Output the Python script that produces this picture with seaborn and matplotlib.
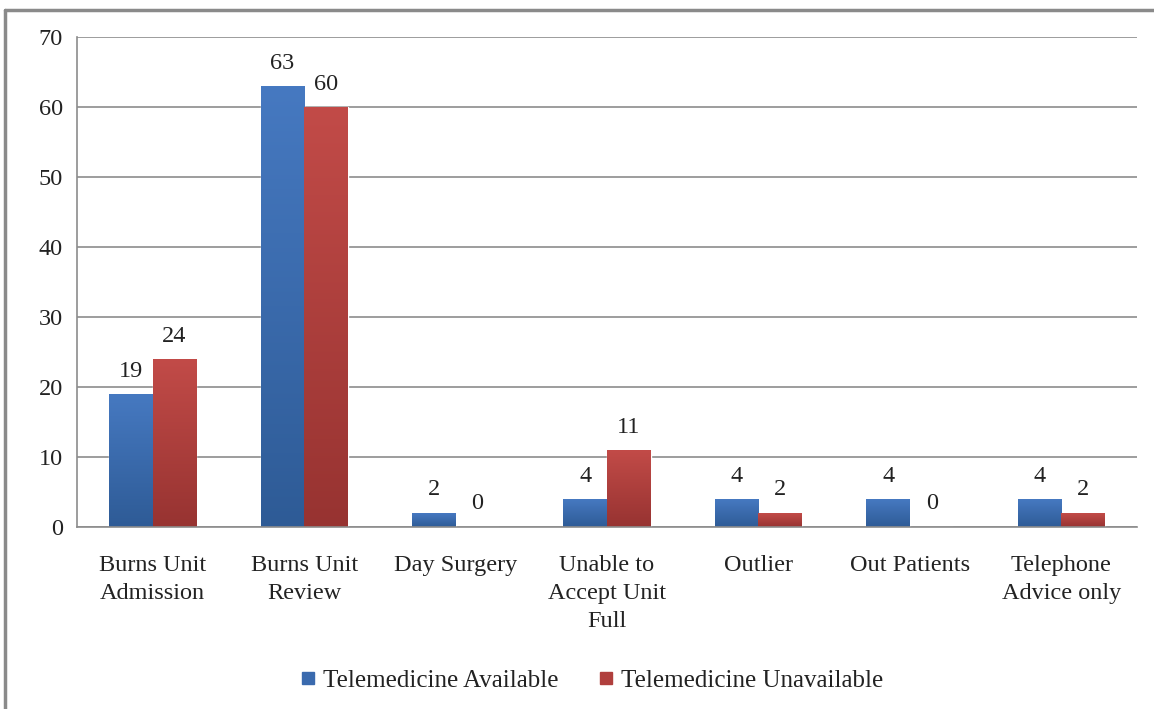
import numpy as np
import pandas as pd
import seaborn as sns
import matplotlib
matplotlib.use('Agg')
import matplotlib.pyplot as plt
from matplotlib.lines import Line2D
from matplotlib.colors import LinearSegmentedColormap

categories = ["Burns Unit\nAdmission", "Burns Unit\nReview", "Day Surgery",
              "Unable to\nAccept Unit\nFull", "Outlier", "Out Patients",
              "Telephone\nAdvice only"]
available = [19, 63, 2, 4, 4, 4, 4]
unavailable = [24, 60, 0, 11, 2, 0, 2]
series = ["Telemedicine Available", "Telemedicine Unavailable"]

df = pd.DataFrame({
    "category": categories * 2,
    "value": available + unavailable,
    "series": [series[0]] * len(categories) + [series[1]] * len(categories),
})

sns.set_style("white")
plt.rcParams['font.family'] = ['Liberation Serif', 'DejaVu Serif']

blue_top, blue_bot = "#4679C1", "#2E5B96"
red_top, red_bot = "#C24B48", "#973331"
grid_c = "#8C8C8C"
txt_c = "#222222"

fig = plt.figure(figsize=(11.54, 7.09), dpi=100)
ax = fig.add_axes([0.0667, 0.2567, 0.9186, 0.6911])

sns.barplot(data=df, x="category", y="value", hue="series",
            palette=[blue_top, red_top], saturation=1, width=0.575,
            ax=ax, legend=False)

# vertical gradient on each bar
grad = np.linspace(1, 0, 256).reshape(-1, 1)
for i, container in enumerate(ax.containers):
    top, bot = (blue_top, blue_bot) if i == 0 else (red_top, red_bot)
    cmap = LinearSegmentedColormap.from_list("g", [bot, top])
    for p in container.patches:
        if p.get_height() <= 0:
            continue
        x0, y0 = p.get_x(), p.get_y()
        im = ax.imshow(grad, cmap=cmap, aspect="auto", zorder=p.get_zorder() + 0.1,
                       extent=[x0, x0 + p.get_width(), y0, y0 + p.get_height()])
        im.set_clip_path(p)
    ax.bar_label(container, labels=[f"{v:.0f}" for v in container.datavalues],
                 padding=9, fontsize=17.5, color=txt_c)

ax.set_xlim(-0.5, len(categories) - 0.5)
ax.set_ylim(0, 70)
ax.set_yticks(range(0, 71, 10))
ax.set_xlabel("")
ax.set_ylabel("")
ax.yaxis.grid(True, color=grid_c, linewidth=1.2)
ax.set_axisbelow(True)
for s in ["top", "right"]:
    ax.spines[s].set_visible(False)
for s in ["left", "bottom"]:
    ax.spines[s].set_color(grid_c)
    ax.spines[s].set_linewidth(1.2)

ax.set_xticks(np.arange(-0.5, len(categories), 1), minor=True)
ax.tick_params(axis="x", which="major", length=0, pad=20, labelsize=17.5)
ax.tick_params(axis="x", which="minor", length=7, width=1.2, color=grid_c)
ax.tick_params(axis="y", length=7, width=1.2, color=grid_c, pad=3, labelsize=17.5)
for lbl in ax.get_xticklabels():
    lbl.set_linespacing(1.45)
    lbl.set_color(txt_c)
for lbl in ax.get_yticklabels():
    lbl.set_color(txt_c)

handles = [Line2D([], [], marker="s", linestyle="", markersize=8,
                  markerfacecolor=c, markeredgecolor=c) for c in ["#3A6AAE", "#B03F3D"]]
fig.legend(handles, series, loc="center", bbox_to_anchor=(0.51, 0.04), ncol=2,
           frameon=False, fontsize=18, handletextpad=0.0, columnspacing=1.3,
           handlelength=1.2, labelcolor=txt_c)

# outer frame (left and top edges visible)
fig.add_artist(Line2D([0.004, 0.004], [0, 0.986], transform=fig.transFigure,
                      color="#8A8A8A", linewidth=2.5))
fig.add_artist(Line2D([0.004, 1], [0.986, 0.986], transform=fig.transFigure,
                      color="#8A8A8A", linewidth=2.5))

fig.savefig("out.png", dpi=100)
